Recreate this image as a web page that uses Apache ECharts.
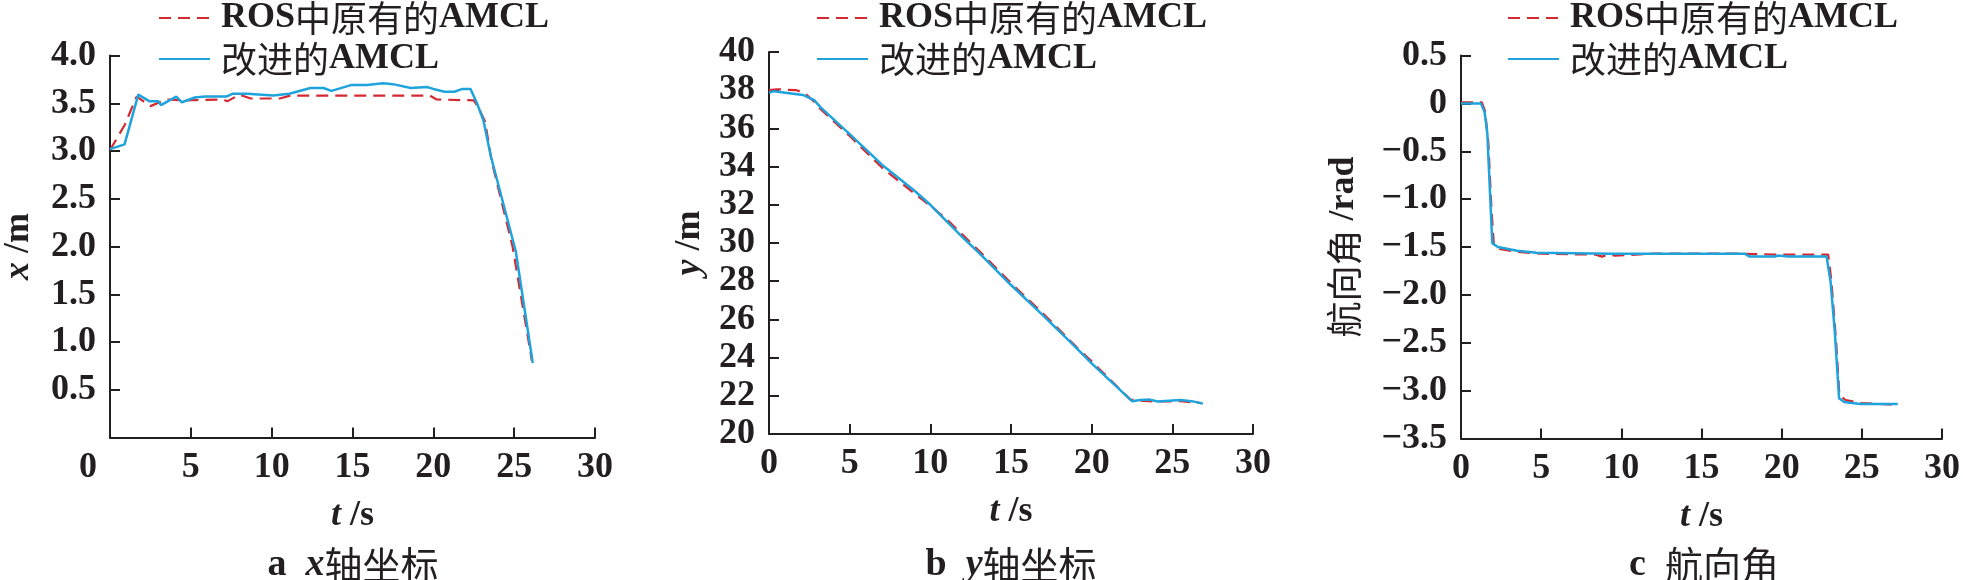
<!DOCTYPE html>
<html>
<head>
<meta charset="utf-8">
<script src="https://cdn.jsdelivr.net/npm/echarts@6/dist/echarts.min.js"></script>
<style>
html,body{margin:0;padding:0;background:#fff;}
#chart{width:1963px;height:580px;}
</style>
</head>
<body>
<div id="chart"></div>
<script>
// ---------- data ----------
const seriesNames = ['ROS中原有的AMCL', '改进的AMCL'];
const xTicks = [0, 5, 10, 15, 20, 25, 30];

// panel a: x coordinate
const aRosT = [0, 0.9, 1.65, 2.5, 3.5, 4.5, 7.0, 7.25, 8.0, 8.7, 10.5, 11.15, 19.8, 20.2, 22.5, 22.8, 23.2, 23.6, 24.9, 26.1];
const aRosV = [3.01, 3.27, 3.57, 3.47, 3.54, 3.53, 3.54, 3.52, 3.59, 3.55, 3.55, 3.58, 3.58, 3.54, 3.53, 3.45, 3.31, 2.9, 2.0, 0.8];
const aImpT = [0, 0.9, 1.75, 2.45, 3.0, 3.15, 4.1, 4.45, 5.25, 5.9, 7.2, 7.6, 8.5, 10.1, 11.1, 12.4, 13.2, 13.7, 14.9, 15.9, 16.9, 17.5, 18.6, 19.6, 20.0, 20.7, 21.3, 21.8, 22.3, 22.7, 23.1, 23.55, 25.1, 26.15];
const aImpV = [3.02, 3.07, 3.59, 3.52, 3.52, 3.48, 3.57, 3.51, 3.56, 3.57, 3.57, 3.60, 3.60, 3.58, 3.60, 3.66, 3.66, 3.63, 3.69, 3.69, 3.71, 3.70, 3.66, 3.67, 3.65, 3.62, 3.62, 3.65, 3.65, 3.50, 3.32, 2.95, 1.95, 0.78];

// panel b: y coordinate
const bRosT = [0, 0.5, 1.7, 2.2, 2.8, 3.2, 5, 7, 9, 10, 11, 13, 15, 17, 19, 20, 22.4, 23.0, 24.0, 25.5, 26.8];
const bRosV = [38.0, 38.05, 38.0, 37.85, 37.4, 37.0, 35.6, 33.95, 32.6, 31.95, 31.25, 29.6, 27.9, 26.3, 24.6, 23.8, 21.8, 21.75, 21.7, 21.72, 21.62];
const bImpT = [0, 0.3, 2.1, 2.8, 3.2, 5, 7, 9, 10, 11, 12, 13, 15, 17, 19, 20, 22.5, 23.0, 23.6, 24.1, 25.5, 26.2, 26.9];
const bImpV = [37.87, 37.95, 37.75, 37.48, 37.1, 35.7, 34.1, 32.75, 32.0, 31.15, 30.3, 29.5, 27.8, 26.2, 24.55, 23.7, 21.72, 21.78, 21.8, 21.7, 21.78, 21.72, 21.59];

// panel c: heading angle
const cRosT = [0, 1.3, 1.5, 1.7, 1.9, 2.05, 2.4, 3.5, 5, 8.4, 8.8, 9.2, 9.6, 12, 17.5, 20, 22.9, 23.1, 23.4, 23.6, 24, 25, 27.2];
const cRosV = [0.01, 0.01, -0.08, -0.4, -1.1, -1.48, -1.52, -1.55, -1.57, -1.58, -1.60, -1.58, -1.59, -1.57, -1.57, -1.58, -1.58, -1.85, -2.5, -3.05, -3.10, -3.13, -3.15];
const cImpT = [0, 1.24, 1.47, 1.64, 1.83, 1.95, 2.3, 3.5, 4.7, 9.4, 17.7, 18.0, 19.6, 19.75, 20.4, 22.8, 23.05, 23.32, 23.58, 23.9, 24.9, 27.24];
const cImpV = [0, 0, -0.09, -0.31, -1.01, -1.46, -1.50, -1.54, -1.56, -1.57, -1.57, -1.60, -1.60, -1.59, -1.60, -1.60, -1.86, -2.40, -3.08, -3.12, -3.14, -3.14];

// ---------- styling ----------
const FONT = "'Liberation Serif','Noto Sans CJK SC',serif";
const CJK = "'Noto Sans CJK SC','Liberation Serif',sans-serif";
const INK = '#231f20';
const RED = '#d42a2f';
const BLUE = '#1fa3dc';
const FS = 36;

const zip = (t, v) => t.map((x, i) => [x, v[i]]);
const wrapCJK = s => s.replace(/([\u4e00-\u9fff]+)/g, '{c|$1}');

const richText = (size) => ({
  i: {fontStyle: 'italic', fontWeight: 'bold', fontFamily: FONT, fontSize: size, color: INK},
  c: {fontWeight: 'normal', fontFamily: CJK, fontSize: size, color: INK}
});

const grids = [
  {left: 110, top: 55.5, width: 485, height: 382},
  {left: 769, top: 52, width: 484, height: 382},
  {left: 1461, top: 55.5, width: 484, height: 383}
];

const yAxisDefs = [
  {min: 0, max: 4, interval: 0.5, name: '{i|x} /m', nameGap: 73,
   fmt: v => v === 0 ? '' : v.toFixed(1)},
  {min: 20, max: 40, interval: 2, name: '{i|y} /m', nameGap: 61,
   fmt: v => String(v)},
  {min: -3.5, max: 0.5, interval: 0.5, name: '{c|航向角} /rad', nameGap: 99,
   fmt: v => v === 0 ? '0' : (v < 0 ? '\u2212' : '') + Math.abs(v).toFixed(1)}
];

const xAxes = grids.map((g, k) => ({
  type: 'value', gridIndex: k, min: 0, max: 30, interval: 5,
  axisLine: {show: true, onZero: false, lineStyle: {color: INK, width: 2}},
  axisTick: {show: true, inside: true, length: 10, lineStyle: {color: INK, width: 2}},
  splitLine: {show: false},
  axisLabel: {
    color: INK, fontFamily: FONT, fontWeight: 'bold', fontSize: FS, margin: 12,
    formatter: v => (k === 0 && v === 0) ? '{o|0}' : String(v),
    rich: {o: {padding: [0, 44, 0, 0], fontFamily: FONT, fontWeight: 'bold', fontSize: FS, color: INK}}
  },
  name: '{i|t} /s', nameLocation: 'middle', nameGap: 60,
  nameTextStyle: {color: INK, fontFamily: FONT, fontWeight: 'bold', fontSize: FS, rich: richText(FS)}
}));

const yAxes = yAxisDefs.map((d, k) => ({
  type: 'value', gridIndex: k, min: d.min, max: d.max, interval: d.interval,
  axisLine: {show: true, onZero: false, lineStyle: {color: INK, width: 2}},
  axisTick: {show: true, inside: true, length: 10, lineStyle: {color: INK, width: 2}},
  splitLine: {show: false},
  axisLabel: {color: INK, fontFamily: FONT, fontWeight: 'bold', fontSize: FS, margin: 14, formatter: d.fmt},
  name: d.name, nameLocation: 'middle', nameGap: d.nameGap, nameRotate: 90,
  nameTextStyle: {color: INK, fontFamily: FONT, fontWeight: 'bold', fontSize: FS, rich: richText(FS)}
}));

const panels = [[aRosT, aRosV, aImpT, aImpV], [bRosT, bRosV, bImpT, bImpV], [cRosT, cRosV, cImpT, cImpV]];
const series = [];
panels.forEach((p, k) => {
  series.push({
    name: seriesNames[0], type: 'line', xAxisIndex: k, yAxisIndex: k,
    data: zip(p[0], p[1]), symbol: 'none', showSymbol: false, smooth: false, z: 2,
    lineStyle: {color: RED, width: 2.2, type: [12, 7]}, itemStyle: {color: RED}
  });
  series.push({
    name: seriesNames[1], type: 'line', xAxisIndex: k, yAxisIndex: k,
    data: zip(p[2], p[3]), symbol: 'none', showSymbol: false, smooth: false, z: 3,
    lineStyle: {color: BLUE, width: 2.5}, itemStyle: {color: BLUE}
  });
});

const legendLefts = [158, 816, 1507];
const legends = legendLefts.map(l => ({
  left: l, top: 0, orient: 'vertical', itemWidth: 51, itemHeight: 14, itemGap: 5,
  padding: 0, data: seriesNames, selectedMode: false,
  itemStyle: {opacity: 0, borderWidth: 0},
  formatter: name => wrapCJK(name),
  textStyle: {color: INK, fontFamily: FONT, fontWeight: 'bold', fontSize: FS, lineHeight: 36,
    padding: [0, 0, 0, 6], rich: richText(FS)}
}));

const subtitles = [
  {x: 353, text: 'a  {i|x}{c|轴坐标}'},
  {x: 1011, text: 'b  {i|y}{c|轴坐标}'},
  {x: 1704, text: 'c  {c|航向角}'}
];

const chart = echarts.init(document.getElementById('chart'), null, {renderer: 'canvas'});
chart.setOption({
  backgroundColor: '#fff',
  animation: false,
  grid: grids,
  xAxis: xAxes,
  yAxis: yAxes,
  legend: legends,
  series: series,
  graphic: subtitles.map(s => ({
    type: 'text', x: s.x, y: 565,
    style: {
      text: s.text, fill: INK, font: `bold 38px ${FONT}`, align: 'center', verticalAlign: 'middle',
      rich: {
        i: {fontStyle: 'italic', fontWeight: 'bold', fontFamily: FONT, fontSize: 38, fill: INK},
        c: {fontWeight: 'normal', fontFamily: CJK, fontSize: 38, fill: INK}
      }
    }
  }))
});
</script>
</body>
</html>
